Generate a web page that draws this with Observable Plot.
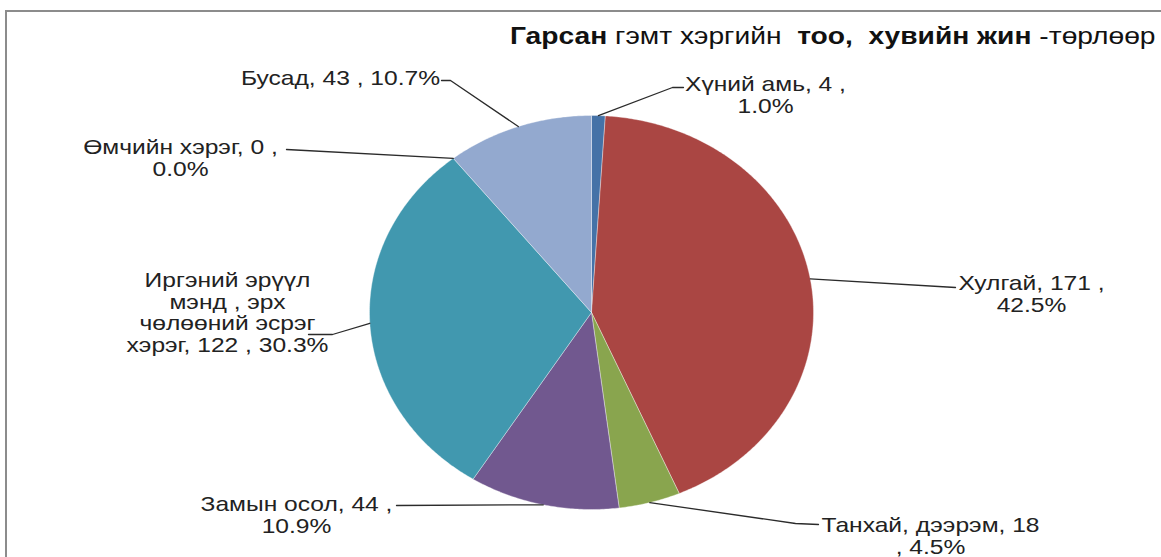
<!DOCTYPE html>
<html><head><meta charset="utf-8">
<script src="https://cdn.jsdelivr.net/npm/d3@7"></script>
<script src="https://cdn.jsdelivr.net/npm/@observablehq/plot@0.6"></script>
<style>
body{margin:0;background:#fff;overflow:hidden;width:1161px;height:557px;position:relative;font-family:"Liberation Sans",Arial,sans-serif}
#frame{position:absolute;left:5px;top:10px;width:1200px;height:600px;border-left:2px solid #8c8c8c;border-top:2px solid #8c8c8c}
#title{position:absolute;left:510px;top:25px;font-size:23.5px;line-height:23.5px;white-space:nowrap;transform:scaleX(1.2);transform-origin:0 0;color:#111}
#chart{position:absolute;left:0;top:0}
</style></head><body>
<div id="frame"></div>
<div id="chart"></div>
<div id="title"><b>Гарсан</b> гэмт хэргийн&nbsp; <b>тоо,&nbsp; хувийн жин</b> -төрлөөр</div>
<script>
// ---- data ----
const categories = ["Хүний амь", "Хулгай", "Танхай, дээрэм", "Замын осол", "Иргэний эрүүл мэнд , эрх чөлөөний эсрэг хэрэг", "Өмчийн хэрэг", "Бусад"];
const values = [4, 171, 18, 44, 122, 0, 43];
const colors = ["#4572A7", "#AA4643", "#89A54E", "#71588F", "#4198AF", "#DB843D", "#93A9CF"];

// ---- layout ----
const cx = 591, cy = 312, rx = 222, ry = 197;
const ux = px => (px - cx) / rx, uy = py => (cy - py) / ry;
const layout = [
  {x: 765, y1: 84, breaks: ["1.0%"], leader: [[672,87],[683,87]]},
  {x: 1031, y1: 283, breaks: ["42.5%"], leader: [[955,287]]},
  {x: 930, y1: 525, breaks: [", 4.5%"], leader: [[795,523],[818,524]]},
  {x: 296, y1: 504, breaks: ["10.9%"], leader: [[396,505]]},
  {x: 227, y1: 280, breaks: ["мэнд", "чөлөөний", "хэрэг,"], leader: [[332,334],[308,334]]},
  {x: 180, y1: 147, breaks: ["0.0%"], leader: [[286,149]]},
  {x: 340, y1: 78, breaks: [], leader: [[450,80],[441,80]]}
];
const LH = 21.5, FS = 20.5, SX = 1.2;

const total = d3.sum(values);
const rows = categories.map((name, i) => ({name, value: values[i]}));
const arcs = d3.pie().sort(null).value(d => d.value)(rows);

const slicePts = [];
arcs.forEach(a => {
  if (a.endAngle - a.startAngle <= 0) return;
  const name = a.data.name;
  slicePts.push({name, x: 0, y: 0});
  const n = Math.max(2, Math.ceil((a.endAngle - a.startAngle) / 0.01));
  for (let k = 0; k <= n; k++) {
    const t = a.startAngle + (a.endAngle - a.startAngle) * k / n;
    slicePts.push({name, x: Math.sin(t), y: Math.cos(t)});
  }
  slicePts.push({name, x: 0, y: 0});
});

const leaderPts = [];
const labels = [];
arcs.forEach((a, i) => {
  const name = a.data.name, L = layout[i];
  const m = (a.startAngle + a.endAngle) / 2;
  leaderPts.push({name, x: Math.sin(m), y: Math.cos(m)});
  L.leader.forEach(([px, py]) => leaderPts.push({name, x: ux(px), y: uy(py)}));
  const pct = (a.data.value / total * 100).toFixed(1) + "%";
  let text = `${name}, ${a.data.value} , ${pct}`;
  L.breaks.forEach(b => { text = text.replace(" " + b, "\n" + b); });
  const nl = text.split("\n").length;
  labels.push({name, text, x: ux(L.x), y: uy(L.y1 + (nl - 1) * LH / 2)});
});

const plot = Plot.plot({
  width: 1161, height: 557, margin: 0,
  x: {domain: [-1, 1], range: [cx - rx, cx + rx], axis: null},
  y: {domain: [-1, 1], range: [cy + ry, cy - ry], axis: null},
  color: {domain: categories, range: colors},
  style: {background: "transparent", fontFamily: "'Liberation Sans', Arial, sans-serif", overflow: "visible"},
  marks: [
    Plot.line(slicePts, {x: "x", y: "y", z: "name", fill: "name", stroke: "#ffffff", strokeWidth: 0.6, strokeOpacity: 0.6}),
    Plot.line(leaderPts, {x: "x", y: "y", z: "name", stroke: "#2b2b2b", strokeWidth: 1.3}),
    Plot.text(labels, {x: "x", y: "y", text: "text", textAnchor: "middle", fontSize: FS, lineHeight: LH / FS, fill: "#222"})
  ]
});
plot.querySelectorAll('g[aria-label="text"] text').forEach(t => {
  t.setAttribute("transform", (t.getAttribute("transform") || "") + ` scale(${SX},1)`);
});
document.getElementById("chart").appendChild(plot);
</script>
</body></html>
